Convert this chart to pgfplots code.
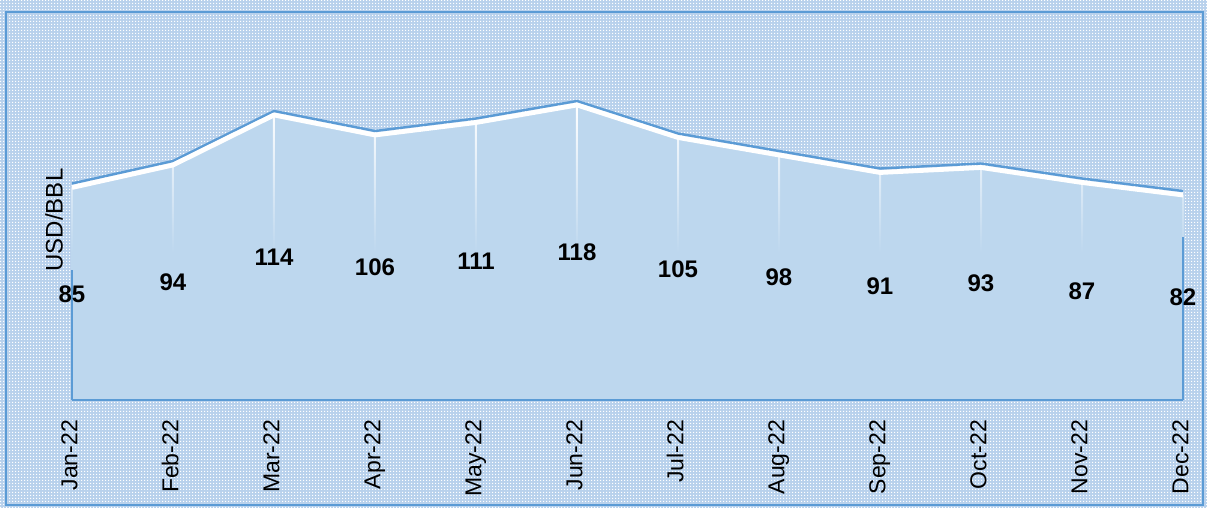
\documentclass[border=0pt]{standalone}
\usepackage{pgfplots}
\pgfplotsset{compat=1.18}
\usepackage{pgfplotstable}
\usepackage{fontspec}
\setmainfont{Liberation Sans}
\usetikzlibrary{patterns}
\definecolor{areaC}{HTML}{BDD7EE}
\definecolor{lineB}{HTML}{5B9BD5}
\definecolor{bgC}{HTML}{B8D1EC}
\pgfdeclarepatternformonly{finedots}{\pgfqpoint{0pt}{0pt}}{\pgfqpoint{1.5pt}{1.5pt}}{\pgfqpoint{1.5pt}{1.5pt}}{\pgfpathrectangle{\pgfqpoint{0pt}{0pt}}{\pgfqpoint{0.75pt}{0.75pt}}\pgfusepath{fill}}

\pgfplotstableread{
x y
0 85
1 94
2 114
3 106
4 111
5 118
6 105
7 98
8 91
9 93
10 87
11 82
}\data

\pgfplotstableread{
x y
0 52
11 65
}\edges

\begin{document}
\begin{tikzpicture}
\useasboundingbox (-36pt,-54pt) rectangle (567.5pt,200pt);
\fill[bgC] (-36pt,-54pt) rectangle (567.5pt,200pt);
\fill[pattern=finedots, pattern color=white] (-36pt,-54pt) rectangle (567.5pt,200pt);
\draw[lineB, line width=1pt] (-33pt,-52.5pt) rectangle (565.5pt,194pt);
\begin{axis}[
  at={(0pt,0pt)}, anchor=south west,
  scale only axis, width=555.5pt, height=175pt,
  xmin=0, xmax=11, ymin=0, ymax=140,
  clip=false,
  axis line style={draw=none},
  ytick=\empty,
  xtick=data,
  xticklabels={Jan-22,Feb-22,Mar-22,Apr-22,May-22,Jun-22,Jul-22,Aug-22,Sep-22,Oct-22,Nov-22,Dec-22},
  major tick length=0pt,
  xticklabel style={rotate=90, anchor=mid east, xshift=-6.5pt, font=\fontsize{11.5}{12}\selectfont, black},
  /pgf/number format/assume math mode=true,
]
\addplot[fill=areaC, draw=none, mark=none] table[x=x,y=y]{\data} \closedcycle;
\addplot[ybar, bar width=1pt, draw=none, top color=white, bottom color=areaC, middle color=areaC] table[x=x,y=y]{\data};
\addplot[ycomb, lineB, line width=1.1pt, mark=none] table[x=x, y=y]{\edges};
\addplot[lineB, line width=1pt, mark=none] coordinates {(0,0) (11,0)};
\addplot[lineB, line width=1.2pt, mark=none, yshift=2pt, line join=round] table[x=x,y=y]{\data};
\addplot[white, line width=2.4pt, mark=none, line join=round] table[x=x,y=y]{\data};
\addplot[draw=none, mark=none, nodes near coords, point meta=explicit,
  every node near coord/.style={anchor=center, font=\bfseries\fontsize{12}{12}\selectfont, black}]
  table[x=x, y expr=\thisrow{y}/2, meta=y]{\data};
\end{axis}
\node[rotate=90, font=\fontsize{12}{12}\selectfont, black] at (-9pt,90pt) {USD/BBL};
\end{tikzpicture}
\end{document}
